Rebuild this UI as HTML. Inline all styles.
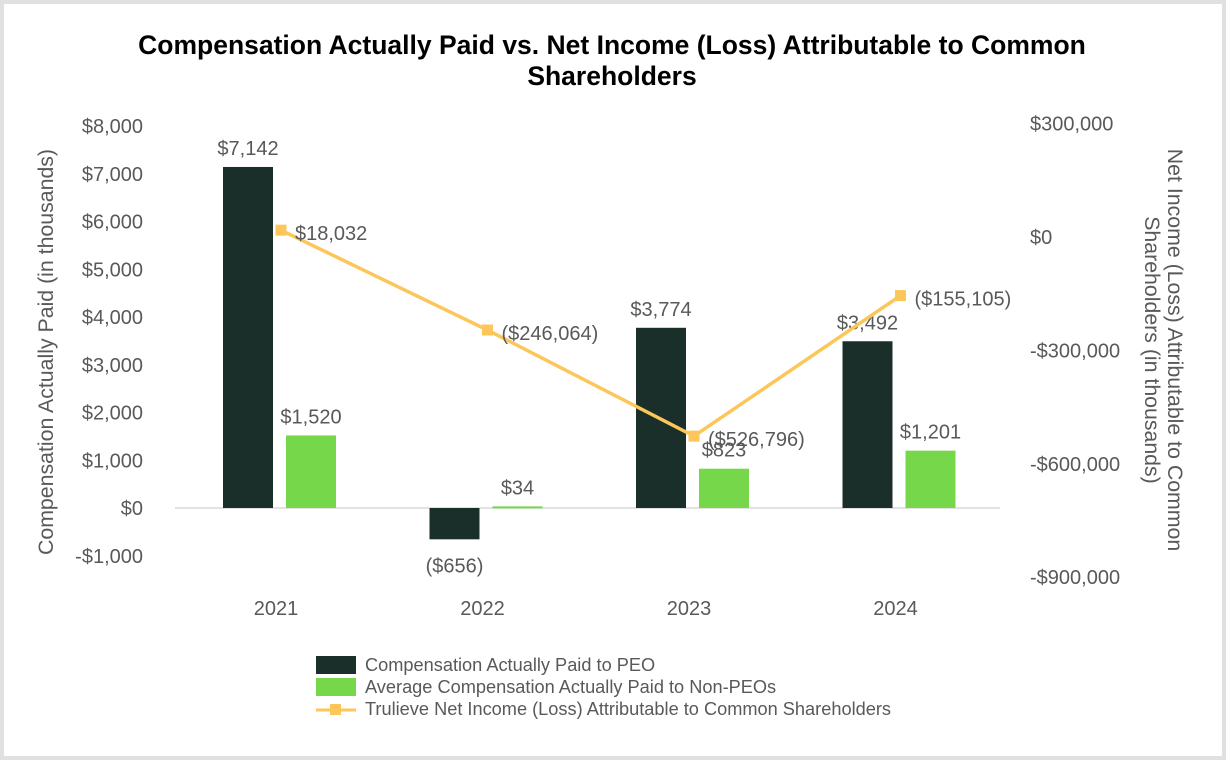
<!DOCTYPE html>
<html><head><meta charset="utf-8"><style>
body{margin:0;background:#fff;}
svg text{font-family:"Liberation Sans",Arial,sans-serif;}
</style></head><body>
<svg width="1226" height="760">
<rect x="2" y="2" width="1222" height="756" fill="#fff" stroke="#e0e0e0" stroke-width="4"/>
<text x="612" y="54" text-anchor="middle" font-size="26.5" font-weight="bold" fill="#000">Compensation Actually Paid vs. Net Income (Loss) Attributable to Common</text>
<text x="612" y="85" text-anchor="middle" font-size="26.5" font-weight="bold" fill="#000">Shareholders</text>
<text transform="translate(53,352) rotate(-90)" text-anchor="middle" font-size="21.3" fill="#595959">Compensation Actually Paid (in thousands)</text>
<g transform="translate(1168,350) rotate(90)">
<text x="0" y="0" text-anchor="middle" font-size="21.3" fill="#595959">Net Income (Loss) Attributable to Common</text>
<text x="0" y="23" text-anchor="middle" font-size="21.3" fill="#595959">Shareholders (in thousands)</text>
</g>
<g id="plot"></g>
<g>
<rect x="316" y="656" width="40" height="18" fill="#1b2f2a"/>
<text x="365" y="671" font-size="18.2" fill="#595959">Compensation Actually Paid to PEO</text>
<rect x="316" y="678" width="40" height="18" fill="#77d74b"/>
<text x="365" y="693" font-size="18.2" fill="#595959">Average Compensation Actually Paid to Non-PEOs</text>
<line x1="316" y1="710" x2="356" y2="710" stroke="#fcc65a" stroke-width="3"/>
<rect x="330" y="704" width="11" height="11" fill="#fcc65a"/>
<text x="365" y="715" font-size="18.2" fill="#595959">Trulieve Net Income (Loss) Attributable to Common Shareholders</text>
</g>
</svg>
<script>
const categories=["2021","2022","2023","2024"];
const peo=[7142,-656,3774,3492];
const nonPeo=[1520,34,823,1201];
const netIncome=[18032,-246064,-526796,-155105];
const leftTicks=[8000,7000,6000,5000,4000,3000,2000,1000,0,-1000];
const rightTicks=[300000,0,-300000,-600000,-900000];
const NS="http://www.w3.org/2000/svg";
const g=document.getElementById('plot');
function yL(v){return 508-v*47.75/1000;}
function yR(v){return 237-v*0.378/1000;}
function xC(i){return 279+i*206.5;}
function fmt(v){const s='$'+Math.abs(v).toLocaleString('en-US');return v<0?'('+s+')':s;}
function fmtL(v){return (v<0?'-':'')+'$'+Math.abs(v).toLocaleString('en-US');}
function mk(t,a,txt){const e=document.createElementNS(NS,t);for(const k in a)e.setAttribute(k,a[k]);if(txt!==undefined)e.textContent=txt;g.appendChild(e);return e;}
leftTicks.forEach(v=>{const e=mk('text',{x:143,y:yL(v)+7,'text-anchor':'end','font-size':20,fill:'#595959'},fmtL(v));

});
rightTicks.forEach(v=>{const e=mk('text',{x:1030,y:yR(v)+7,'font-size':20,fill:'#595959'},fmtL(v));

});
const ax=mk('line',{x1:175,x2:1000,y1:yL(0),y2:yL(0),stroke:'#d9d9d9','stroke-width':1.5});


categories.forEach((c,i)=>{
 const cx=xC(i);
 const t=mk('text',{x:cx-3,y:615,'text-anchor':'middle','font-size':20,fill:'#595959'},c);
 
 
 const y1=yL(peo[i]),y0=yL(0);
 const b=mk('rect',{x:cx-56,y:Math.min(y1,y0),width:50,height:Math.abs(y1-y0),fill:'#1b2f2a'});
 
 
 const l=mk('text',{x:cx-31,y:peo[i]>=0?y1-12:y1+33,'text-anchor':'middle','font-size':20,fill:'#595959'},fmt(peo[i]));
 
 
 const y2=yL(nonPeo[i]);
 const b2=mk('rect',{x:cx+7,y:Math.min(y2,y0),width:50,height:Math.max(Math.abs(y2-y0),2),fill:'#77d74b'});
 
 
 const l2=mk('text',{x:cx+32,y:y2-12,'text-anchor':'middle','font-size':20,fill:'#595959'},fmt(nonPeo[i]));
 
 
});
const pts=netIncome.map((v,i)=>[xC(i)+2,yR(v)]);
const pl=mk('polyline',{points:pts.map(p=>p.join(',')).join(' '),fill:'none',stroke:'#fcc65a','stroke-width':3.5});


pts.forEach((p,i)=>{
 const m=mk('rect',{x:p[0]-5.5,y:p[1]-5.5,width:11,height:11,fill:'#fcc65a'});
 
 
 const t=mk('text',{x:p[0]+14,y:p[1]+10,'font-size':20,fill:'#595959'},fmt(netIncome[i]));
 
 
});
</script>
</body></html>
